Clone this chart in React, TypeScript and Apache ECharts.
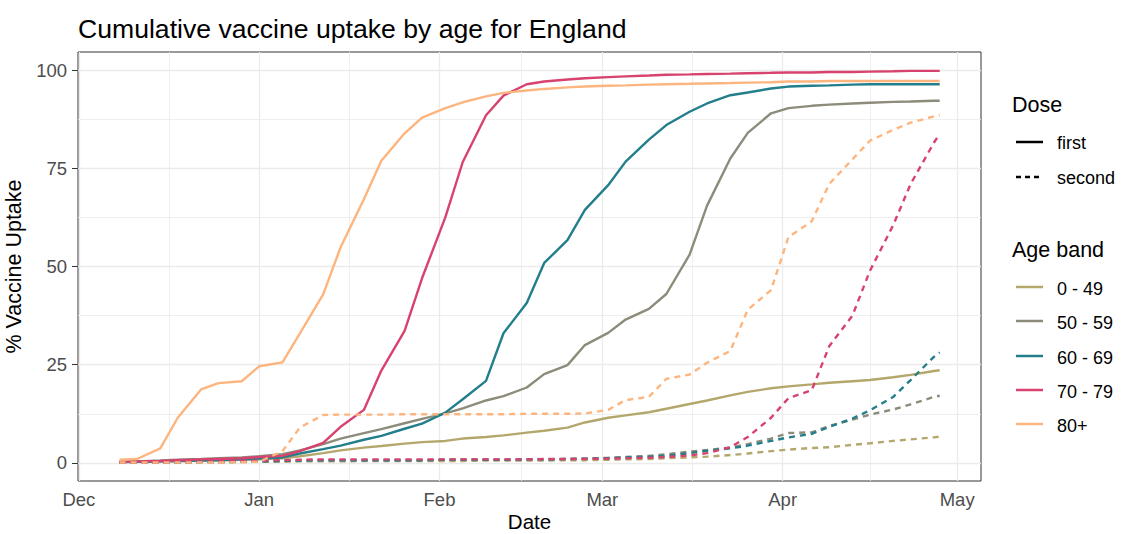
import React, { useEffect, useRef } from "react";
import * as echarts from "echarts";

// ---- data ----
const dates = [
  "2020-12-08", "2020-12-11", "2020-12-15", "2020-12-18", "2020-12-22", "2020-12-25", "2020-12-29",
  "2021-01-01", "2021-01-05", "2021-01-08", "2021-01-12", "2021-01-15", "2021-01-19", "2021-01-22",
  "2021-01-26", "2021-01-29", "2021-02-02", "2021-02-05", "2021-02-09", "2021-02-12", "2021-02-16",
  "2021-02-19", "2021-02-23", "2021-02-26", "2021-03-02", "2021-03-05", "2021-03-09", "2021-03-12",
  "2021-03-16", "2021-03-19", "2021-03-23", "2021-03-26", "2021-03-30", "2021-04-02", "2021-04-06",
  "2021-04-09", "2021-04-13", "2021-04-16", "2021-04-20", "2021-04-23", "2021-04-27", "2021-04-28",
];

const ageBands = ["0 - 49", "50 - 59", "60 - 69", "70 - 79", "80+"];
const doseNames = ["first", "second"];

const first049 = [0.2, 0.3, 0.4, 0.5, 0.6, 0.7, 0.8, 0.9, 1.2, 1.7, 2.5, 3.2, 3.9, 4.3, 4.9, 5.3, 5.6, 6.2, 6.6, 7.0, 7.7, 8.2, 9.0, 10.3, 11.5, 12.1, 12.9, 13.8, 15.0, 15.9, 17.2, 18.1, 19.0, 19.5, 20.0, 20.4, 20.8, 21.1, 21.8, 22.4, 23.4, 23.6];
const first5059 = [0.3, 0.4, 0.6, 0.8, 1.0, 1.2, 1.4, 1.7, 2.2, 3.2, 4.8, 6.2, 7.6, 8.6, 10.1, 11.2, 12.6, 13.9, 15.9, 17.0, 19.2, 22.6, 24.9, 30.0, 33.1, 36.5, 39.2, 43.0, 53.0, 65.5, 77.5, 84.0, 89.0, 90.3, 90.9, 91.2, 91.5, 91.7, 91.9, 92.0, 92.2, 92.2];
const first6069 = [0.2, 0.3, 0.4, 0.5, 0.6, 0.7, 0.9, 1.1, 1.4, 2.4, 3.5, 4.4, 5.9, 6.9, 8.7, 10.0, 12.8, 16.2, 20.9, 33.0, 40.7, 50.9, 56.7, 64.4, 70.7, 76.7, 82.3, 86.0, 89.4, 91.5, 93.6, 94.3, 95.3, 95.8, 96.0, 96.1, 96.3, 96.4, 96.4, 96.4, 96.4, 96.4];
const first7079 = [0.3, 0.4, 0.5, 0.7, 0.9, 1.0, 1.2, 1.5, 1.8, 3.0, 5.1, 9.2, 13.5, 23.5, 33.6, 47.0, 62.5, 76.6, 88.5, 93.5, 96.4, 97.1, 97.6, 97.9, 98.2, 98.4, 98.6, 98.8, 98.9, 99.0, 99.1, 99.2, 99.3, 99.4, 99.4, 99.5, 99.5, 99.6, 99.7, 99.8, 99.8, 99.8];
const first80 = [0.8, 1.0, 3.7, 11.5, 18.7, 20.3, 20.8, 24.6, 25.6, 33.0, 42.9, 54.9, 67.1, 76.9, 83.9, 87.9, 90.3, 91.8, 93.3, 94.2, 94.8, 95.2, 95.6, 95.8, 96.0, 96.1, 96.3, 96.4, 96.5, 96.6, 96.7, 96.8, 96.9, 97.1, 97.1, 97.2, 97.2, 97.2, 97.2, 97.2, 97.2, 97.2];

const second049 = [0.1, 0.1, 0.1, 0.1, 0.1, 0.2, 0.2, 0.3, 0.3, 0.4, 0.4, 0.4, 0.5, 0.5, 0.5, 0.5, 0.5, 0.5, 0.6, 0.6, 0.6, 0.6, 0.7, 0.7, 0.8, 0.9, 1.0, 1.2, 1.4, 1.6, 2.0, 2.4, 3.0, 3.4, 3.8, 4.0, 4.6, 5.0, 5.6, 6.0, 6.5, 6.7];
const second5059 = [0.1, 0.1, 0.1, 0.1, 0.2, 0.2, 0.3, 0.4, 0.5, 0.6, 0.7, 0.7, 0.7, 0.7, 0.7, 0.7, 0.8, 0.8, 0.8, 0.8, 0.9, 0.9, 1.0, 1.1, 1.3, 1.5, 1.8, 2.2, 2.9, 3.3, 3.9, 4.8, 6.2, 7.6, 7.8, 9.4, 11.0, 12.3, 13.6, 14.9, 16.8, 17.1];
const second6069 = [0.1, 0.1, 0.1, 0.1, 0.2, 0.2, 0.3, 0.4, 0.5, 0.6, 0.7, 0.7, 0.7, 0.7, 0.7, 0.7, 0.8, 0.8, 0.8, 0.8, 0.9, 0.9, 1.0, 1.1, 1.2, 1.4, 1.6, 1.8, 2.5, 3.1, 3.7, 4.4, 5.6, 6.5, 7.4, 9.2, 11.3, 13.4, 16.8, 21.1, 27.0, 28.1];
const second7079 = [0.1, 0.1, 0.1, 0.2, 0.3, 0.4, 0.5, 0.6, 0.7, 0.8, 0.9, 0.9, 0.9, 0.9, 0.9, 0.9, 0.9, 0.9, 0.9, 0.9, 0.9, 1.0, 1.0, 1.0, 1.1, 1.2, 1.3, 1.5, 1.9, 2.5, 4.0, 6.6, 11.5, 16.5, 18.5, 29.7, 37.5, 48.9, 60.5, 71.0, 81.5, 83.8];
const second80 = [0.1, 0.1, 0.1, 0.1, 0.1, 0.1, 0.2, 0.3, 3.0, 9.0, 12.2, 12.3, 12.3, 12.3, 12.4, 12.4, 12.4, 12.4, 12.4, 12.4, 12.5, 12.5, 12.5, 12.6, 13.5, 16.0, 16.8, 21.4, 22.5, 25.5, 28.5, 39.0, 44.0, 57.5, 61.5, 71.0, 77.3, 82.0, 84.8, 86.6, 88.2, 88.5];

const monthTicks = ["2020-12-01", "2021-01-01", "2021-02-01", "2021-03-01", "2021-04-01", "2021-05-01"];
const monthLabels = ["Dec", "Jan", "Feb", "Mar", "Apr", "May"];
const yTicks = [0, 25, 50, 75, 100];
const yMinorTicks = [12.5, 37.5, 62.5, 87.5];

// ---- styles ----
const ageColors = ["#B4A76C", "#8D8B79", "#237E8C", "#D7426E", "#FDB57F"];
const FONT = "Liberation Sans, Arial, sans-serif";
const DAY = 86400000;

const toTime = (s: string) => {
  const [y, m, d] = s.split("-").map(Number);
  return Date.UTC(y, m - 1, d);
};

export default function App() {
  const ref = useRef<HTMLDivElement>(null);

  useEffect(() => {
    document.body.style.margin = "0";
    if (!ref.current) return;
    const chart = echarts.init(ref.current, undefined, { renderer: "svg" });

    const xTimes = dates.map(toTime);
    const tickTimes = monthTicks.map(toTime);
    const minorTimes = tickTimes.slice(0, -1).map((t, i) => (t + tickTimes[i + 1]) / 2);
    const firstDose = [first049, first5059, first6069, first7079, first80];
    const secondDose = [second049, second5059, second6069, second7079, second80];

    const gridColor = "#EBEBEB";
    const gridLines = [
      ...yTicks.map((v) => ({ yAxis: v, lineStyle: { color: gridColor, width: 1.3, type: "solid" } })),
      ...yMinorTicks.map((v) => ({ yAxis: v, lineStyle: { color: gridColor, width: 0.8, type: "solid" } })),
      ...tickTimes.map((t) => ({ xAxis: t, lineStyle: { color: gridColor, width: 1.3, type: "solid" } })),
      ...minorTimes.map((t) => ({ xAxis: t, lineStyle: { color: gridColor, width: 0.8, type: "solid" } })),
    ];

    const lineSeries: any[] = [];
    ageBands.forEach((band, i) => {
      [firstDose, secondDose].forEach((dose, k) => {
        lineSeries.push({
          name: band + " " + doseNames[k],
          type: "line",
          data: xTimes.map((t, j) => [t, dose[i][j]]),
          showSymbol: false,
          symbol: "none",
          silent: true,
          z: 3,
          itemStyle: { color: ageColors[i] },
          lineStyle: { color: ageColors[i], width: 2.4, type: k === 0 ? "solid" : [6, 5] },
        });
      });
    });

    const legendX = 1012;
    const keyX1 = 1016;
    const keyX2 = 1043;
    const textX = 1057;
    const doseY = [142, 177];
    const ageY = [287, 321, 356, 390, 424];

    const graphic: any[] = [
      {
        type: "text", x: 529.5, y: 521,
        style: { text: "Date", fill: "#000", font: `20.5px ${FONT}`, textAlign: "center", textVerticalAlign: "middle" },
      },
      { type: "text", x: legendX, y: 105, style: { text: "Dose", fill: "#000", font: `21.5px ${FONT}`, textVerticalAlign: "middle" } },
      ...doseNames.map((d, k) => ({
        type: "line",
        shape: { x1: keyX1, y1: doseY[k], x2: keyX2, y2: doseY[k] },
        style: k === 0 ? { stroke: "#000", lineWidth: 2.5 } : { stroke: "#000", lineWidth: 2.5, lineDash: [5, 4] },
      })),
      ...doseNames.map((d, k) => ({
        type: "text", x: textX, y: doseY[k] + 1,
        style: { text: d, fill: "#000", font: `18px ${FONT}`, textVerticalAlign: "middle" },
      })),
      { type: "text", x: legendX, y: 250, style: { text: "Age band", fill: "#000", font: `21.5px ${FONT}`, textVerticalAlign: "middle" } },
      ...ageBands.map((b, i) => ({
        type: "line",
        shape: { x1: keyX1, y1: ageY[i], x2: keyX2, y2: ageY[i] },
        style: { stroke: ageColors[i], lineWidth: 2.5 },
      })),
      ...ageBands.map((b, i) => ({
        type: "text", x: textX, y: ageY[i] + 2,
        style: { text: b, fill: "#000", font: `18px ${FONT}`, textVerticalAlign: "middle" },
      })),
    ];

    chart.setOption({
      animation: false,
      backgroundColor: "#ffffff",
      title: {
        text: "Cumulative vaccine uptake by age for England",
        left: 78,
        top: 15,
        padding: 0,
        textStyle: { fontSize: 26.6, fontWeight: "normal", color: "#000", fontFamily: FONT },
      },
      grid: {
        left: 78, right: 140, top: 52, bottom: 53,
        containLabel: false,
        outerBoundsMode: "none",
        show: true, borderColor: "#333333", borderWidth: 1, backgroundColor: "transparent",
      },
      xAxis: {
        type: "value",
        min: toTime("2020-12-01") - 0.15 * DAY,
        max: toTime("2021-05-05") + 0.1 * DAY,
        axisLine: { show: false },
        axisTick: { show: true, customValues: tickTimes, length: 6, lineStyle: { color: "#333333", width: 1 } },
        axisLabel: {
          customValues: tickTimes,
          margin: 9,
          fontSize: 18.5,
          color: "#4D4D4D",
          fontFamily: FONT,
          showMinLabel: true,
          showMaxLabel: true,
          formatter: (v: number) => {
            const idx = tickTimes.indexOf(v);
            return idx >= 0 ? monthLabels[idx] : "";
          },
        },
        splitLine: { show: false },
      },
      yAxis: {
        type: "value",
        min: -4.6,
        max: 104.6,
        name: "% Vaccine Uptake",
        nameLocation: "middle",
        nameRotate: 90,
        nameGap: 49,
        nameTextStyle: { fontSize: 21.5, color: "#000", fontFamily: FONT },
        axisLine: { show: false },
        axisTick: { show: true, customValues: yTicks, length: 6, lineStyle: { color: "#333333", width: 1 } },
        axisLabel: { customValues: yTicks, margin: 11, fontSize: 18.5, color: "#4D4D4D", fontFamily: FONT },
        splitLine: { show: false },
      },
      graphic,
      series: [
        {
          type: "line",
          data: [],
          silent: true,
          z: 1,
          markLine: {
            silent: true,
            z: 1,
            symbol: ["none", "none"],
            label: { show: false },
            emphasis: { disabled: true },
            data: gridLines,
          },
        },
        ...lineSeries,
      ],
    });

    return () => chart.dispose();
  }, []);

  return <div ref={ref} style={{ width: 1121, height: 534 }} />;
}
